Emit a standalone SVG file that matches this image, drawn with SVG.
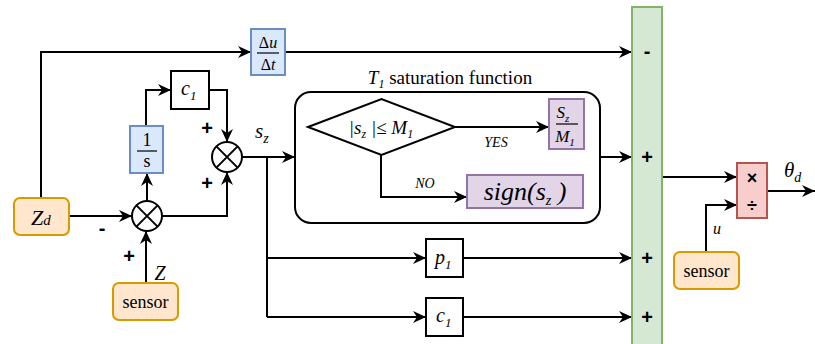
<svg xmlns="http://www.w3.org/2000/svg" width="815" height="344" viewBox="0 0 815 344">
<style>
.ln{fill:none;stroke:#000;stroke-width:2}
.blue{fill:#dae8fc;stroke:#6c8ebf;stroke-width:2}
.org{fill:#ffe6cc;stroke:#d79b00;stroke-width:2}
.grn{fill:#d5e8d4;stroke:#82b366;stroke-width:2}
.pur{fill:#e1d5e7;stroke:#9673a6;stroke-width:2}
.red{fill:#f8cecc;stroke:#b85450;stroke-width:2}
.wht{fill:#fff;stroke:#000;stroke-width:2}
.frac{stroke:#000;stroke-width:1.2}
.m{font-family:'Liberation Serif','DejaVu Serif','Times New Roman',serif;font-style:italic;fill:#000}
.r{font-family:'Liberation Serif','DejaVu Serif','Times New Roman',serif;fill:#000}
.s{font-family:'Liberation Sans','DejaVu Sans',sans-serif;font-weight:bold;fill:#000}
</style>
<defs>
<marker id="a" markerUnits="userSpaceOnUse" markerWidth="14" markerHeight="12" refX="13" refY="6" orient="auto">
<path d="M0,0 L13,6 L0,12 L4,6 z" fill="#000"/>
</marker>
</defs>
<g id="saturation-frame">
<rect class="wht" x="295" y="92" width="305" height="131" rx="16"/>
</g>
<g id="connectors">
<path class="ln" d="M41,198 V52 H251" marker-end="url(#a)"/>
<path class="ln" d="M285,52 H632" marker-end="url(#a)"/>
<path class="ln" d="M146,126 V90 H171" marker-end="url(#a)"/>
<path class="ln" d="M209,90 H227 V142" marker-end="url(#a)"/>
<path class="ln" d="M242,157 H295" marker-end="url(#a)"/>
<path class="ln" d="M69,216 H132" marker-end="url(#a)"/>
<path class="ln" d="M147,201 V173" marker-end="url(#a)"/>
<path class="ln" d="M162,216 H227 V172" marker-end="url(#a)"/>
<path class="ln" d="M146,283 V231" marker-end="url(#a)"/>
<path class="ln" d="M455,127 H549" marker-end="url(#a)"/>
<path class="ln" d="M381,155 V197 H467" marker-end="url(#a)"/>
<path class="ln" d="M600,157 H632" marker-end="url(#a)"/>
<path class="ln" d="M267,157 V317"/>
<path class="ln" d="M267,258 H426" marker-end="url(#a)"/>
<path class="ln" d="M463,258 H632" marker-end="url(#a)"/>
<path class="ln" d="M267,317 H426" marker-end="url(#a)"/>
<path class="ln" d="M463,317 H632" marker-end="url(#a)"/>
<path class="ln" d="M662,177 H737" marker-end="url(#a)"/>
<path class="ln" d="M706,253 V205 H737" marker-end="url(#a)"/>
<path class="ln" d="M767,191 H815" marker-end="url(#a)"/>
</g>
<g id="dudt">
<rect class="blue" x="251" y="29" width="34" height="46"/>
<text class="r" x="268" y="48" font-size="16" text-anchor="middle">Δ<tspan font-style="italic">u</tspan></text>
<line class="frac" x1="257" y1="53" x2="279" y2="53"/>
<text class="r" x="268" y="70" font-size="16" text-anchor="middle">Δ<tspan font-style="italic">t</tspan></text>
</g>
<g id="c1top">
<rect class="wht" x="171" y="71" width="38" height="38"/>
<text class="m" x="181" y="95" font-size="20">c<tspan font-size="13" dy="5">1</tspan></text>
</g>
<g id="integ">
<rect class="blue" x="130" y="126" width="33" height="47"/>
<text class="r" x="147" y="146" font-size="18" text-anchor="middle">1</text>
<line class="frac" x1="137" y1="151" x2="157" y2="151"/>
<text class="r" x="147" y="167" font-size="18" text-anchor="middle">s</text>
</g>
<g id="sum1">
<circle class="wht" cx="227" cy="157" r="15"/>
<path class="ln" d="M216.4,146.4 L237.6,167.6 M237.6,146.4 L216.4,167.6"/>
<text class="s" x="207" y="135" font-size="20" text-anchor="middle">+</text>
<text class="s" x="207" y="190" font-size="20" text-anchor="middle">+</text>
<text class="m" x="255" y="138" font-size="21">s<tspan font-size="14" dy="5">z</tspan></text>
</g>
<g id="sum2">
<circle class="wht" cx="147" cy="216" r="15"/>
<path class="ln" d="M136.4,205.4 L157.6,226.6 M157.6,205.4 L136.4,226.6"/>
<text class="s" x="102" y="235" font-size="20" text-anchor="middle">-</text>
<text class="s" x="129" y="263" font-size="20" text-anchor="middle">+</text>
<text class="m" x="160" y="280" font-size="20" text-anchor="middle">Z</text>
</g>
<g id="zd">
<rect class="org" x="14" y="198" width="55" height="37" rx="6"/>
<text class="m" x="31" y="225" font-size="22">Z<tspan font-size="15">d</tspan></text>
</g>
<g id="sensor1">
<rect class="org" x="113" y="283" width="65" height="37" rx="6"/>
<text class="r" x="145.5" y="308" font-size="18" text-anchor="middle">sensor</text>
</g>
<g id="saturation">
<text class="r" x="450" y="84" font-size="19" text-anchor="middle"><tspan font-style="italic">T</tspan><tspan font-style="italic" font-size="12" dy="4">1</tspan><tspan dy="-4"> saturation function</tspan></text>
<path class="wht" d="M308,127 L381.5,99 L455,127 L381.5,155 Z"/>
<text class="m" x="381" y="134" font-size="19" text-anchor="middle">|s<tspan font-size="12" dy="4">z</tspan><tspan dy="-4"> |≤ M</tspan><tspan font-size="12" dy="4">1</tspan></text>
<text class="m" x="496" y="147" font-size="14" text-anchor="middle">YES</text>
<text class="m" x="425" y="188" font-size="14" text-anchor="middle">NO</text>
</g>
<g id="ratio">
<rect class="pur" x="549" y="99" width="35" height="50"/>
<text class="m" x="563" y="118" font-size="17" text-anchor="middle">S<tspan font-size="11" dy="4">z</tspan></text>
<line class="frac" x1="556" y1="124" x2="578" y2="124"/>
<text class="m" x="565" y="142" font-size="17" text-anchor="middle">M<tspan font-size="11" dy="4">1</tspan></text>
</g>
<g id="sign">
<rect class="pur" x="467" y="175" width="116" height="33"/>
<text class="m" x="525" y="200" font-size="26" text-anchor="middle">sign(s<tspan font-size="14" dy="5">z</tspan><tspan dy="-5"> )</tspan></text>
</g>
<g id="p1">
<rect class="wht" x="426" y="239" width="37" height="38"/>
<text class="m" x="435" y="264" font-size="20">p<tspan font-size="13" dy="5">1</tspan></text>
</g>
<g id="c1bot">
<rect class="wht" x="426" y="298" width="37" height="38"/>
<text class="m" x="436" y="322" font-size="20">c<tspan font-size="13" dy="5">1</tspan></text>
</g>
<g id="summer">
<rect class="grn" x="632" y="7" width="30" height="345"/>
<text class="s" x="647" y="58" font-size="20" text-anchor="middle">-</text>
<text class="s" x="647" y="164" font-size="20" text-anchor="middle">+</text>
<text class="s" x="647" y="265" font-size="20" text-anchor="middle">+</text>
<text class="s" x="647" y="324" font-size="20" text-anchor="middle">+</text>
</g>
<g id="divider">
<rect class="red" x="737" y="163" width="30" height="55"/>
<text class="s" x="752" y="184" font-size="18" text-anchor="middle">×</text>
<text class="s" x="752" y="212" font-size="18" text-anchor="middle">÷</text>
<text class="m" x="784" y="177" font-size="21">θ<tspan font-size="14" dy="5">d</tspan></text>
<text class="m" x="717" y="234" font-size="16" text-anchor="middle">u</text>
</g>
<g id="sensor2">
<rect class="org" x="674" y="252" width="65" height="37" rx="6"/>
<text class="r" x="706.5" y="277" font-size="18" text-anchor="middle">sensor</text>
</g>
</svg>
